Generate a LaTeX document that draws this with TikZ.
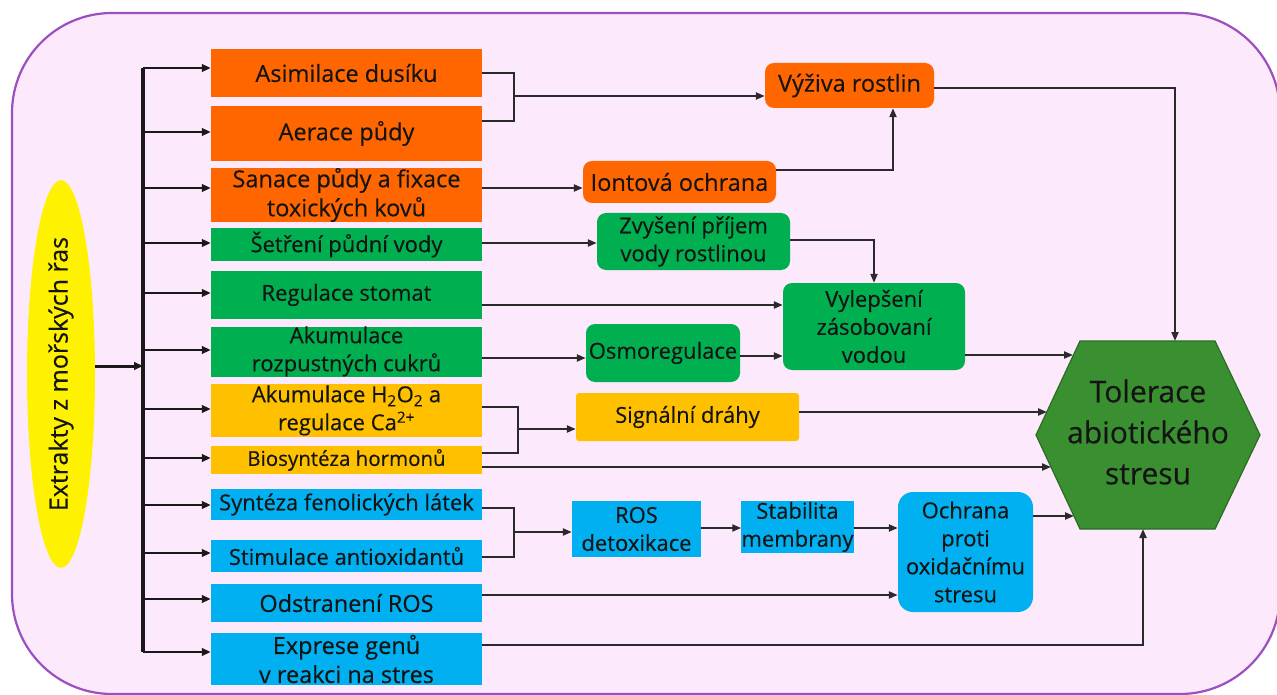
\documentclass[tikz,border=0pt]{standalone}
\usepackage{fontspec}
\setmainfont{Open Sans}[BoldFont={Open Sans}, BoldFeatures={FakeBold=0.35}]
\usetikzlibrary{arrows.meta,calc,shapes.geometric}
\definecolor{frameC}{HTML}{9B4FC0}
\definecolor{bgC}{HTML}{FCE9FC}
\definecolor{orC}{HTML}{FF6600}
\definecolor{grC}{HTML}{00B050}
\definecolor{goC}{HTML}{FFC000}
\definecolor{blC}{HTML}{00B0F0}
\definecolor{hexC}{HTML}{3A8F31}
\definecolor{hexD}{HTML}{2C6B25}
\definecolor{lnC}{HTML}{2A2A2A}
\definecolor{txC}{HTML}{141414}
\begin{document}
\begin{tikzpicture}[x=1pt,y=-1pt,
  box/.style={draw=none, inner sep=0pt, align=center, text=txC,
    font=\fontsize{22}{28}\selectfont\bfseries},
  obox/.style={box, fill=orC},
  gbox/.style={box, fill=grC},
  ybox/.style={box, fill=goC},
  bbox/.style={box, fill=blC},
  lbox/.style={minimum width=271pt},
  big/.style={font=\fontsize{23.5}{29}\selectfont\bfseries},
  rnd/.style={rounded corners=9pt},
  ln/.style={draw=lnC, line width=2.1pt},
  arr/.style={ln, -{Triangle[length=9pt,width=7pt]}},
  barr/.style={draw=black!90, line width=2.5pt, -{Triangle[length=9pt,width=7.5pt]}},
  trunk/.style={draw=black!90, line width=3.2pt},
]
\useasboundingbox (0,0) rectangle (1277,695);
\fill[white] (0,0) rectangle (1277,695);
\draw[frameC, fill=bgC, line width=2.2pt, rounded corners=100pt] (12,13) rectangle (1280,694);

% source
\node[ellipse, fill=yellow, minimum width=338pt, minimum height=68pt, inner sep=0pt,
  rotate=90, text=txC, font=\fontsize{25}{30}\selectfont\bfseries] (ell) at (61,374) {Extrakty z mořských řas};

% left column
\node[obox, lbox, big, minimum height=48pt] (a1) at (346.5,73) {Asimilace dusíku};
\node[obox, lbox, big, minimum height=55pt] (a2) at (346.5,133.5) {Aerace půdy};
\node[obox, lbox, big, minimum height=52pt] (a3) at (346.5,195) {Sanace půdy a fixace\\toxických kovů};
\node[gbox, lbox, minimum height=33pt] (g1) at (346.5,244.5) {Šetření půdní vody};
\node[gbox, lbox, minimum height=48pt] (g2) at (346.5,295) {Regulace stomat};
\node[gbox, lbox, minimum height=49pt] (g3) at (346.5,351.5) {Akumulace\\rozpustných cukrů};
\node[ybox, lbox, minimum height=53pt] (y1) at (346.5,410.5) {Akumulace H\textsubscript{2}O\textsubscript{2} a\\regulace Ca\textsuperscript{2+}};
\node[ybox, lbox, minimum height=28pt, font=\fontsize{20.5}{24}\selectfont\bfseries] (y2) at (346.5,460) {Biosyntéza hormonů};
\node[bbox, lbox, minimum height=31pt] (b1) at (346.5,504.5) {Syntéza fenolických látek};
\node[bbox, lbox, minimum height=32pt] (b2) at (346.5,556) {Stimulace antioxidantů};
\node[bbox, lbox, big, minimum height=38pt] (b3) at (346.5,603) {Odstranení ROS};
\node[bbox, lbox, big, minimum height=52pt] (b4) at (346.5,659) {Exprese genů\\v reakci na stres};

% middle nodes
\node[obox, rnd, big, minimum width=169pt, minimum height=45pt] (vy) at (849.5,85.5) {Výživa rostlin};
\node[obox, rnd, big, minimum width=193pt, minimum height=42pt] (io) at (679.5,182) {Iontová ochrana};
\node[gbox, rnd, minimum width=193pt, minimum height=57pt] (zv) at (693.5,241.5) {Zvyšení příjem\\vody rostlinou};
\node[gbox, rnd, minimum width=182pt, minimum height=87pt] (vl) at (874,326.5) {Vylepšení\\zásobovaní\\vodou};
\node[gbox, rnd, minimum width=154pt, minimum height=58pt] (os) at (663,353) {Osmoregulace};
\node[ybox, rounded corners=3pt, minimum width=223pt, minimum height=48pt] (si) at (687.5,417) {Signální dráhy};
\node[bbox, minimum width=129pt, minimum height=56pt] (ros) at (636.5,529) {ROS\\detoxikace};
\node[bbox, minimum width=109pt, minimum height=52pt] (st) at (797.5,527) {Stabilita\\membrany};
\node[bbox, rounded corners=15pt, minimum width=135pt, minimum height=120pt] (oc) at (965.5,552) {Ochrana\\proti\\oxidačnímu\\stresu};

% hexagon
\draw[fill=hexC, draw=hexD, line width=1.2pt] (1036,435) -- (1080,341) -- (1215,341) -- (1260,435) -- (1215,529) -- (1080,529) -- cycle;
\node[box, font=\fontsize{30}{41}\selectfont\bfseries] (hex) at (1148,432) {Tolerace\\abiotického\\stresu};
\coordinate (hT) at (1175,341);
\coordinate (hB) at (1143,529);
\coordinate (h1) at (1073,355);
\coordinate (h2) at (1047,412);
\coordinate (h3) at (1051,467);
\coordinate (h4) at (1074,516);

% trunk
\coordinate (tT) at (143,68);
\coordinate (tB) at (143,652);
\draw[trunk] (tT) -- (tB);
\draw[barr, line width=3pt] ([yshift=8pt]ell.south) -- (tT |- 0,366);
\draw[barr] (tT |- 0,68) -- (a1.west |- 0,68);
\draw[barr] (tT |- 0,132) -- (a2.west |- 0,132);
\draw[barr] (tT |- 0,188) -- (a3.west |- 0,188);
\draw[barr] (tT |- 0,243) -- (g1.west |- 0,243);
\draw[barr] (tT |- 0,293) -- (g2.west |- 0,293);
\draw[barr] (tT |- 0,350) -- (g3.west |- 0,350);
\draw[barr] (tT |- 0,409) -- (y1.west |- 0,409);
\draw[barr] (tT |- 0,458) -- (y2.west |- 0,458);
\draw[barr] (tT |- 0,505) -- (b1.west |- 0,505);
\draw[barr] (tT |- 0,553) -- (b2.west |- 0,553);
\draw[barr] (tT |- 0,599) -- (b3.west |- 0,599);
\draw[barr] (tT |- 0,652) -- (b4.west |- 0,652);

% orange group
\coordinate (j1) at (514,96);
\draw[ln] (a1.east |- 0,73) -| (j1) |- (a2.east |- 0,121);
\draw[arr] (j1) -- (vy.west |- j1);
\draw[arr] (a3.east |- 0,188) -- (io.west |- 0,188);
\draw[arr] (io.east |- 0,170) -| ([xshift=43.5pt]vy.south);
\draw[arr] (vy.east |- 0,88) -| (hT);

% green group
\draw[arr] (g1.east |- 0,243) -- (zv.west |- 0,243);
\draw[arr] (zv.east |- 0,240) -| (vl.north);
\draw[arr] (g2.east |- 0,305) -- (vl.west |- 0,305);
\draw[arr] (g3.east |- 0,358) -- (os.west |- 0,358);
\draw[arr] (os.east |- 0,356) -- (vl.west |- 0,356);
\draw[arr] (vl.east |- h1) -- (h1);

% yellow group
\coordinate (j2) at (518,429);
\draw[ln] (y1.east |- 0,407) -| (j2) |- (y2.east |- 0,453);
\draw[arr] (j2) -- (si.west |- j2);
\draw[arr] (si.east |- h2) -- (h2);
\draw[arr] (y2.east |- h3) -- (h3);

% blue group
\coordinate (j3) at (514,532);
\draw[ln] (b1.east |- 0,508) -| (j3) |- (b2.east |- 0,557);
\draw[arr] (j3) -- (ros.west |- j3);
\draw[arr] (ros.east |- 0,528) -- (st.west |- 0,528);
\draw[arr] (st.east |- 0,528) -- (oc.west |- 0,528);
\draw[arr] (b3.east |- 0,595) -- (oc.west |- 0,595);
\draw[arr] (oc.east |- h4) -- (h4);
\draw[arr] (b4.east |- 0,645) -| (hB);
\end{tikzpicture}
\end{document}
